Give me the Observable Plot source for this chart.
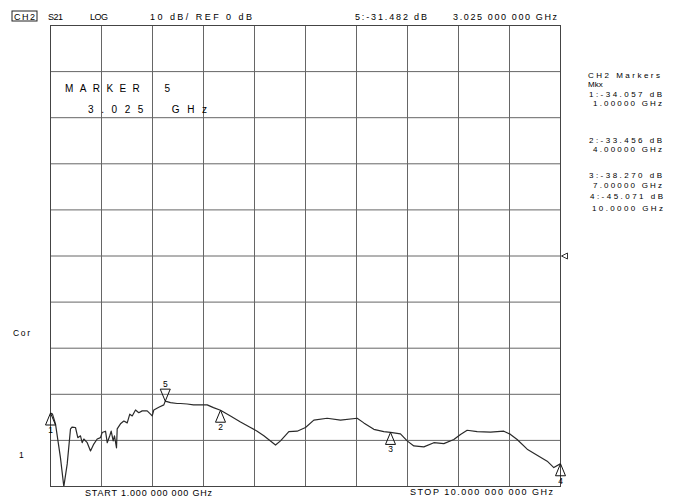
<!DOCTYPE html>
<html>
<head>
<meta charset="utf-8">
<script src="https://cdn.jsdelivr.net/npm/d3@7"></script>
<script src="https://cdn.jsdelivr.net/npm/@observablehq/plot@0.6"></script>
<style>
  html, body { margin: 0; padding: 0; background: #fff; }
  svg text { font-family: "Liberation Sans", Arial, sans-serif; }
</style>
</head>
<body>
<div id="chart"></div>
<script>
// ---- data ----
const freqGHz = [1.0, 1.035, 1.088, 1.176, 1.235, 1.295, 1.353, 1.383, 1.441, 1.482, 1.529, 1.559, 1.588, 1.648, 1.706, 1.764, 1.824, 1.882, 1.912, 1.971, 2.001, 2.046, 2.071, 2.106, 2.129, 2.165, 2.177, 2.235, 2.294, 2.354, 2.399, 2.442, 2.5, 2.558, 2.618, 2.706, 2.765, 2.795, 2.823, 2.911, 3.0, 3.025, 3.118, 3.236, 3.294, 3.412, 3.524, 3.647, 3.765, 3.876, 4.0, 4.176, 4.353, 4.529, 4.647, 4.765, 4.971, 5.059, 5.206, 5.353, 5.5, 5.647, 5.882, 6.118, 6.412, 6.529, 6.706, 6.882, 7.0, 7.176, 7.294, 7.412, 7.588, 7.765, 7.941, 8.118, 8.235, 8.353, 8.529, 8.765, 9.0, 9.118, 9.235, 9.412, 9.588, 9.765, 9.882, 10.0];
const s21dB = [-34.06, -34.3, -36.4, -43.8, -50.0, -45.1, -37.5, -37.1, -37.2, -39.4, -39.0, -40.5, -39.7, -40.5, -42.3, -40.8, -39.7, -39.4, -38.3, -38.0, -40.5, -39.0, -38.0, -40.1, -39.0, -41.6, -37.5, -36.4, -35.8, -36.2, -34.3, -34.7, -33.4, -34.0, -33.6, -33.6, -34.3, -34.7, -33.4, -32.8, -32.3, -31.48, -31.8, -32.0, -32.0, -32.1, -32.3, -32.3, -32.3, -32.9, -33.46, -34.7, -36.0, -37.2, -38.0, -39.0, -41.0, -40.1, -38.1, -38.0, -37.2, -35.6, -35.2, -35.6, -35.2, -36.2, -37.6, -38.1, -38.27, -38.6, -40.1, -41.2, -41.4, -40.5, -40.7, -39.8, -38.7, -37.8, -38.1, -38.2, -38.0, -38.7, -39.8, -41.9, -43.2, -44.5, -45.9, -45.07];

const markerId   = [1, 2, 3, 4, 5];
const markerFreq = [1.0, 4.0, 7.0, 10.0, 3.025];
const markerDb   = [-34.057, -33.456, -38.270, -45.071, -31.482];

const gridFreq = [1.9, 2.8, 3.7, 4.6, 5.5, 6.4, 7.3, 8.2, 9.1];
const gridDb   = [-40, -30, -20, -10, 0, 10, 20, 30, 40];
const refLevel = [0];

// ---- build tables ----
const trace = freqGHz.map((f, i) => ({f, db: s21dB[i]}));
const markers = markerId.map((id, i) => ({id, f: markerFreq[i], db: markerDb[i]}));
const upMarkers = markers.filter(d => d.id !== 5);
const downMarkers = markers.filter(d => d.id === 5);

const triUp = {draw(ctx) { ctx.moveTo(0, 0); ctx.lineTo(5, 12); ctx.lineTo(-5, 12); ctx.closePath(); }};
const triDown = {draw(ctx) { ctx.moveTo(0, 0); ctx.lineTo(5, -12); ctx.lineTo(-5, -12); ctx.closePath(); }};
const refSym = {draw(ctx) { ctx.moveTo(0, 0); ctx.lineTo(6, -3); ctx.lineTo(6, 3); ctx.closePath(); }};

const chart = Plot.plot({
  width: 678,
  height: 498,
  marginLeft: 50,
  marginRight: 118,
  marginTop: 25,
  marginBottom: 12,
  style: {background: "#fff", overflow: "visible"},
  x: {domain: [1, 10], axis: null},
  y: {domain: [-50, 50], axis: null},
  marks: [
    Plot.ruleX(gridFreq, {stroke: "#666", strokeWidth: 1, strokeOpacity: 1}),
    Plot.ruleY(gridDb, {stroke: "#666", strokeWidth: 1, strokeOpacity: 1}),
    Plot.frame({stroke: "#444"}),
    Plot.line(trace, {x: "f", y: "db", stroke: "#2a2a2a", strokeWidth: 1.2, clip: true}),
    Plot.dot(upMarkers, {x: "f", y: "db", symbol: triUp, r: 5, fill: "none", stroke: "#111", strokeWidth: 1}),
    Plot.dot(downMarkers, {x: "f", y: "db", symbol: triDown, r: 5, fill: "none", stroke: "#111", strokeWidth: 1}),
    Plot.text(upMarkers, {x: "f", y: "db", text: d => String(d.id), dy: 17, fontSize: 8.5, fill: "#000"}),
    Plot.text(downMarkers, {x: "f", y: "db", text: d => String(d.id), dy: -17, fontSize: 8.5, fill: "#000"}),
    Plot.dot(refLevel, {x: () => 10, y: d => d, symbol: refSym, r: 5, dx: 1, fill: "none", stroke: "#333", strokeWidth: 1})
  ]
});

document.getElementById("chart").appendChild(chart);

// ---- annotation text (instrument screen labels) ----
const svg = d3.select(chart);
function label(str, x, y, size, width, anchor = "start") {
  const t = svg.append("text")
    .attr("x", x).attr("y", y)
    .attr("font-size", size)
    .attr("fill", "#000")
    .attr("text-anchor", anchor)
    .style("white-space", "pre")
    .text(str);
  if (width) t.attr("textLength", width).attr("lengthAdjust", "spacing");
  return t;
}
svg.append("rect").attr("x", 12).attr("y", 11).attr("width", 25).attr("height", 10)
  .attr("fill", "none").attr("stroke", "#222").attr("stroke-width", 1);
label("CH2", 14, 19.5, 9, 21);
label("S21", 48, 19.5, 9, 15);
label("LOG", 90, 19.5, 9, 18);
label("10 dB/ REF 0 dB", 150, 19.5, 9, 102);
label("5:-31.482 dB", 355, 19.5, 9, 72);
label("3.025 000 000 GHz", 453, 19.5, 9, 104);

label("MARKER  5", 65, 92, 10, 105);
label("3.025  GHz", 88, 113, 10, 119);

label("CH2 Markers", 588, 78, 8, 72);
label("Mkx", 588, 87, 8);
label("1:-34.057 dB", 589, 97, 8, 73);
label("1.00000 GHz", 593, 106, 8, 69);
label("2:-33.456 dB", 589, 143, 8, 73);
label("4.00000 GHz", 593, 152, 8, 69);
label("3:-38.270 dB", 589, 178, 8, 73);
label("7.00000 GHz", 593, 188, 8, 69);
label("4:-45.071 dB", 590, 199, 8, 73);
label("10.0000 GHz", 592, 211, 8, 71);

label("Cor", 13, 336, 8.5, 17);
label("1", 19, 458, 8.5);

label("START 1.000 000 000 GHz", 85, 496, 9, 127);
label("STOP 10.000 000 000 GHz", 410, 495, 9, 143);
</script>
</body>
</html>
